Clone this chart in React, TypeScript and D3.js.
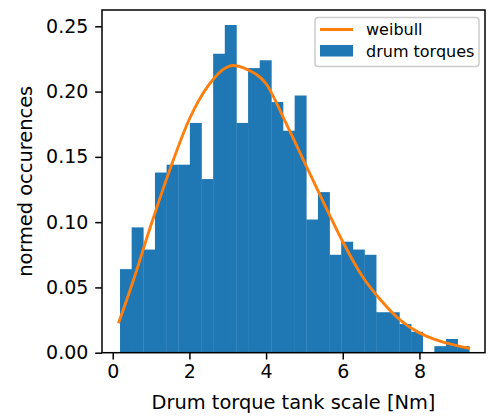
import { useEffect, useRef } from 'react'
import * as d3 from 'd3'

// histogram: 30 equal bins between binLo and binHi, density values
const binLo = 0.19
const binHi = 9.3
const densities = [
  0.064, 0.096, 0.079, 0.138, 0.144, 0.144, 0.176, 0.133, 0.229, 0.251,
  0.176, 0.218, 0.224, 0.192, 0.170, 0.197, 0.102, 0.123, 0.075, 0.085,
  0.079, 0.075, 0.031, 0.031, 0.022, 0.016, 0.0, 0.005, 0.0105, 0.005,
]

// weibull fit curve
const weibullX = [0.15, 0.5, 1.0, 1.5, 2.0, 2.5, 3.0, 3.15, 3.5, 4.0, 4.5, 5.0, 5.5, 6.0, 6.5, 7.0, 7.5, 8.0, 8.5, 9.0, 9.32]
const weibullY = [0.0225, 0.052, 0.098, 0.141, 0.179, 0.205, 0.219, 0.2200, 0.217, 0.206, 0.177, 0.146, 0.115, 0.085, 0.059, 0.040, 0.025, 0.0152, 0.0092, 0.0052, 0.0032]

const xTicks = [0, 2, 4, 6, 8]
const yTicks = [0, 0.05, 0.1, 0.15, 0.2, 0.25]
const legendLabels = ['weibull', 'drum torques']

const BLUE = '#1f77b4'
const ORANGE = '#ff7f0e'
const FONT = '"DejaVu Sans", sans-serif'

const App = () => {
  const svgRef = useRef<SVGSVGElement>(null)
  const width = 488
  const height = 419
  const left = 102, right = 485, top = 10, bottom = 352.7

  useEffect(() => {
    if (!svgRef.current) return
    const svg = d3.select(svgRef.current)
    svg.selectAll('*').remove()

    const x = d3.scaleLinear().domain([-0.28, 9.71]).range([left, right])
    const y = d3.scaleLinear().domain([0, 0.2625]).range([bottom, top])

    const bw = (binHi - binLo) / densities.length
    const bins = densities.map((d, i) => ({ x0: binLo + i * bw, x1: binLo + (i + 1) * bw, v: d }))

    svg.append('g')
      .selectAll('rect')
      .data(bins)
      .enter().append('rect')
      .attr('x', d => x(d.x0))
      .attr('width', d => x(d.x1) - x(d.x0) + 0.3)
      .attr('y', d => y(d.v))
      .attr('height', d => y(0) - y(d.v))
      .attr('fill', BLUE)

    const pts = weibullX.map((v, i) => [v, weibullY[i]] as [number, number])
    const line = d3.line<[number, number]>()
      .x(d => x(d[0]))
      .y(d => y(d[1]))
      .curve(d3.curveMonotoneX)

    svg.append('path')
      .datum(pts)
      .attr('d', line)
      .attr('fill', 'none')
      .attr('stroke', ORANGE)
      .attr('stroke-width', 2.9)

    // frame
    svg.append('rect')
      .attr('x', left).attr('y', top)
      .attr('width', right - left).attr('height', bottom - top)
      .attr('fill', 'none')
      .attr('stroke', 'black')
      .attr('stroke-width', 1.5)

    const xAxis = svg.append('g')
      .attr('transform', `translate(0,${bottom})`)
      .call(d3.axisBottom(x).tickValues(xTicks).tickFormat(d3.format('d')).tickSize(6.8).tickPadding(5.5))
    const yAxis = svg.append('g')
      .attr('transform', `translate(${left},0)`)
      .call(d3.axisLeft(y).tickValues(yTicks).tickFormat(d3.format('.2f')).tickSize(6.8).tickPadding(6.8))

    ;[xAxis, yAxis].forEach(a => {
      a.select('.domain').remove()
      a.selectAll('line').attr('stroke', 'black').attr('stroke-width', 1.5)
      a.selectAll('text')
        .attr('fill', '#000')
        .style('font-family', FONT)
        .style('font-size', '19px')
    })

    svg.append('text')
      .attr('x', (left + right) / 2)
      .attr('y', 409)
      .attr('text-anchor', 'middle')
      .style('font-family', FONT)
      .style('font-size', '19.4px')
      .text('Drum torque tank scale [Nm]')

    svg.append('text')
      .attr('transform', `translate(32,${(top + bottom) / 2}) rotate(-90)`)
      .attr('text-anchor', 'middle')
      .style('font-family', FONT)
      .style('font-size', '19.4px')
      .text('normed occurences')

    // legend
    const lg = svg.append('g')
    lg.append('rect')
      .attr('x', 315).attr('y', 17.5)
      .attr('width', 164).attr('height', 49)
      .attr('rx', 3)
      .attr('fill', 'white').attr('fill-opacity', 0.8)
      .attr('stroke', '#cccccc').attr('stroke-width', 1.5)
    lg.append('line')
      .attr('x1', 320).attr('x2', 353)
      .attr('y1', 29.5).attr('y2', 29.5)
      .attr('stroke', ORANGE).attr('stroke-width', 2.9)
    lg.append('rect')
      .attr('x', 320).attr('y', 45)
      .attr('width', 33).attr('height', 11.5)
      .attr('fill', BLUE)
    lg.selectAll('text.lab')
      .data(legendLabels)
      .enter().append('text')
      .attr('class', 'lab')
      .attr('x', 366)
      .attr('y', (d, i) => 35 + i * 21.5)
      .style('font-family', FONT)
      .style('font-size', '16px')
      .attr('fill', '#000')
      .text(d => d)
  }, [])

  return (
    <svg
      ref={svgRef}
      width={width}
      height={height}
      style={{ position: 'absolute', left: 0, top: 0, background: 'white' }}
    />
  )
}

export default App
